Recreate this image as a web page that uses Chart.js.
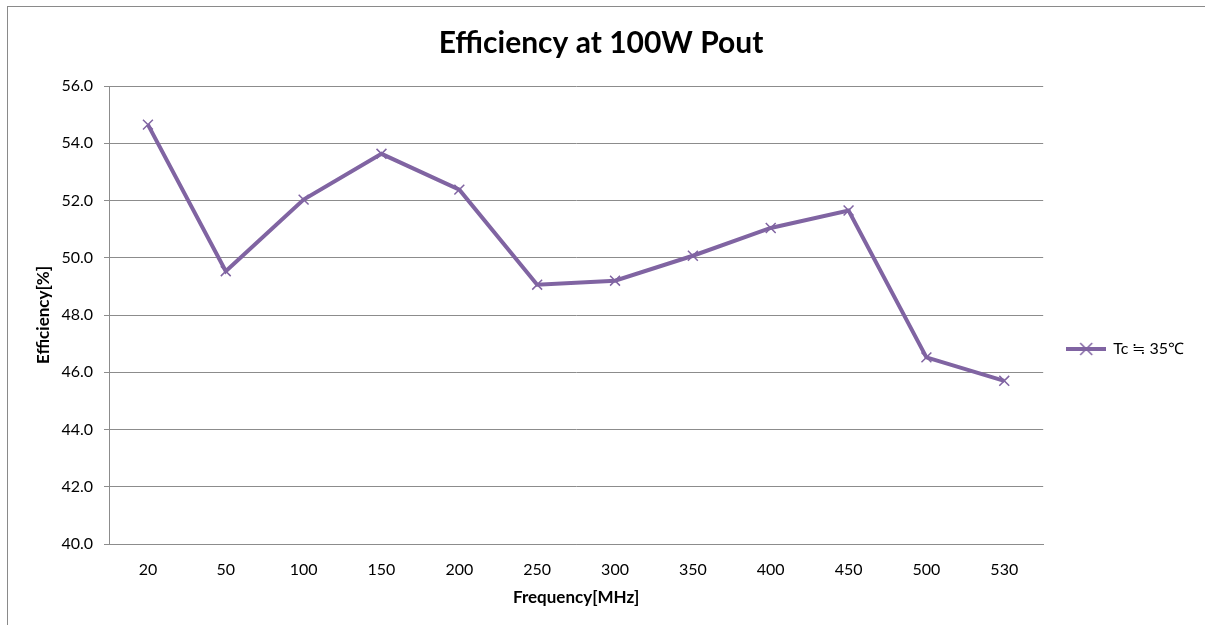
<!DOCTYPE html>
<html>
<head>
<meta charset="utf-8">
<script src="https://cdn.jsdelivr.net/npm/chart.js@4"></script>
<style>
  body { margin: 0; overflow: hidden; background: #fff; }
  #frame { position: absolute; left: 7px; top: 6px; width: 1500px; height: 800px;
           border-left: 1px solid #8a8a8a; border-top: 1px solid #8a8a8a; }
  #box { position: absolute; left: 0; top: 0; width: 1197px; height: 618px; }
</style>
</head>
<body>
<div id="frame"><div id="box"><canvas id="effChart"></canvas></div></div>
<script>
  var frequencies = ['20', '50', '100', '150', '200', '250', '300', '350', '400', '450', '500', '530'];
  var efficiency = [54.65, 49.53, 52.03, 53.63, 52.38, 49.06, 49.2, 50.07, 51.04, 51.65, 46.52, 45.7];
  var seriesName = 'Tc ≒ 35℃';
  var purple = '#8064A2';
  var gridGrey = '#8c8c8c';
  var fontFamily = 'Lato, "Noto Sans", "Noto Sans CJK JP", sans-serif';

  // small picture for the legend: line with a cross in the middle
  var legendMark = document.createElement('canvas');
  legendMark.width = 40;
  legendMark.height = 16;
  var lm = legendMark.getContext('2d');
  lm.strokeStyle = purple;
  lm.lineWidth = 4;
  lm.beginPath(); lm.moveTo(0, 8); lm.lineTo(40, 8); lm.stroke();
  lm.lineWidth = 1.5;
  lm.beginPath();
  lm.moveTo(14, 2); lm.lineTo(26, 14);
  lm.moveTo(26, 2); lm.lineTo(14, 14);
  lm.stroke();

  var ctx = document.getElementById('effChart').getContext('2d');
  var effChart = new Chart(ctx, {
    type: 'line',
    data: {
      labels: frequencies,
      datasets: [{
        label: seriesName,
        data: efficiency,
        borderColor: purple,
        backgroundColor: purple,
        borderWidth: 4,
        tension: 0,
        pointStyle: 'crossRot',
        pointRadius: 7,
        pointBorderWidth: 1.5,
        pointBorderColor: purple
      }]
    },
    options: {
      responsive: true,
      maintainAspectRatio: false,
      animation: false,
      layout: { padding: { left: 0, right: 11, top: 0, bottom: 0 } },
      plugins: {
        title: {
          display: true,
          text: 'Efficiency at 100W Pout',
          color: '#000',
          font: { family: fontFamily, size: 30, weight: 'bold' },
          padding: { top: 18, bottom: 25 }
        },
        legend: {
          position: 'right',
          title: { display: true, text: ' ', font: { size: 10 }, padding: { top: 54, bottom: 0 } },
          labels: {
            usePointStyle: true,
            pointStyle: legendMark,
            pointStyleWidth: 38,
            color: '#000',
            font: { family: fontFamily, size: 16 },
            padding: 24,
            generateLabels: function(chart) {
              return [{
                text: seriesName,
                fontColor: '#000',
                pointStyle: legendMark,
                fillStyle: purple,
                strokeStyle: purple,
                lineWidth: 0,
                datasetIndex: 0,
                hidden: false
              }];
            }
          }
        },
        tooltip: { enabled: false }
      },
      scales: {
        x: {
          offset: true,
          grid: { display: false },
          border: { display: true, color: gridGrey, width: 1 },
          ticks: { color: '#000', font: { family: fontFamily, size: 16 }, padding: 8, maxRotation: 0 },
          title: {
            display: true,
            text: 'Frequency[MHz]',
            color: '#000',
            font: { family: fontFamily, size: 17, weight: 'bold' },
            padding: { top: 0, bottom: 17 }
          },
          afterFit: function(scale) { scale.height = 81; }
        },
        y: {
          min: 40,
          max: 56,
          ticks: {
            stepSize: 2,
            color: '#000',
            font: { family: fontFamily, size: 16 },
            padding: 11,
            callback: function(v) { return v.toFixed(1); }
          },
          grid: { color: gridGrey, lineWidth: 1, tickLength: 5, drawTicks: true },
          border: { display: true, color: gridGrey, width: 1 },
          title: {
            display: true,
            text: 'Efficiency[%]',
            color: '#000',
            font: { family: fontFamily, size: 17, weight: 'bold' },
            padding: { top: 25, bottom: 0 }
          },
          afterFit: function(scale) { scale.width = 101; }
        }
      }
    }
  });
</script>
</body>
</html>
